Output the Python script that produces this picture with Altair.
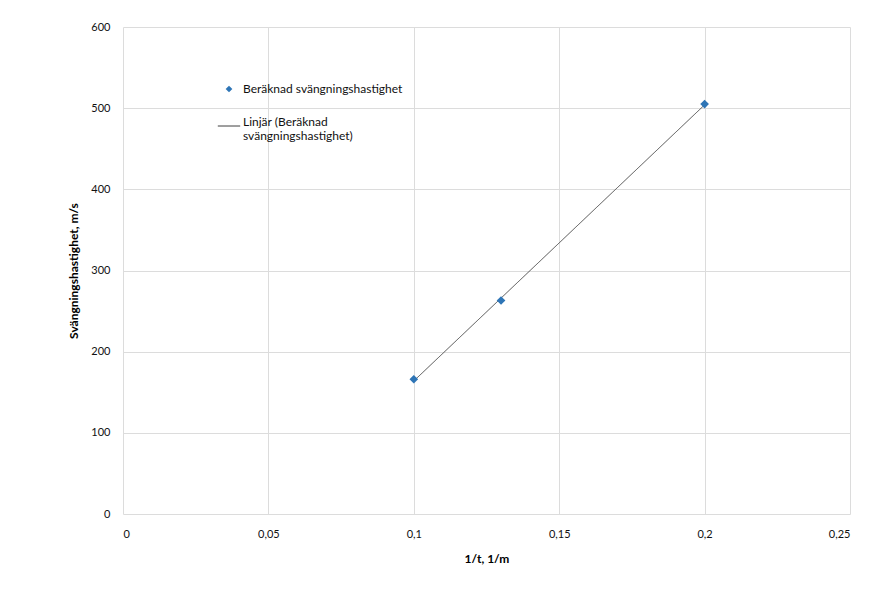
import altair as alt
import pandas as pd

# Data
inv_t = [0.1, 0.13, 0.2]
speed = [166, 263, 505]
series_points = "Beräknad svängningshastighet"
series_line = "Linjär (Beräknad svängningshastighet)"
x_ticks = [0, 0.05, 0.1, 0.15, 0.2, 0.25]
y_ticks = [0, 100, 200, 300, 400, 500, 600]

df = pd.DataFrame({"x": inv_t, "y": speed, "s": series_points, "l": series_line})

FONT = "Lato"

x_enc = alt.X(
    "x:Q",
    scale=alt.Scale(domain=[0, 0.25], nice=False, zero=True),
    axis=alt.Axis(
        values=x_ticks,
        title="1/t, 1/m",
        labelExpr="replace(toString(datum.value), '.', ',')",
        grid=True,
        gridColor="#dcdcdc",
        domain=False,
        ticks=False,
        labelPadding=14,
        titlePadding=14,
    ),
)
y_enc = alt.Y(
    "y:Q",
    scale=alt.Scale(domain=[0, 600], nice=False),
    axis=alt.Axis(
        values=y_ticks,
        title="Svängningshastighet, m/s",
        grid=True,
        gridColor="#dcdcdc",
        domain=False,
        ticks=False,
        labelPadding=13,
        titlePadding=10,
    ),
)

line = (
    alt.Chart(df)
    .transform_regression("x", "y", method="linear")
    .transform_calculate(l=f"'{series_line}'")
    .mark_line(color="#4a4a4a", strokeWidth=1, strokeDash=[6, 2])
    .encode(
        x=x_enc,
        y=y_enc,
        strokeDash=alt.StrokeDash(
            "l:N",
            scale=alt.Scale(domain=[series_line], range=[[1, 0]]),
            legend=alt.Legend(
                title=None,
                orient="none",
                legendX=94,
                legendY=87,
                symbolType="stroke",
                symbolStrokeColor="#333333",
                symbolStrokeWidth=1,
                symbolSize=500,
                labelLimit=400,
                labelFontSize=12,
                labelFont=FONT,
                labelColor="#111111",
                labelExpr="['Linjär (Beräknad', 'svängningshastighet)']",
                labelBaseline="alphabetic",
                labelOffset=2,
            ),
        ),
    )
)

points = (
    alt.Chart(df)
    .mark_point(filled=True, size=75, color="#2E75B6", opacity=1)
    .encode(
        x=x_enc,
        y=y_enc,
        shape=alt.Shape(
            "s:N",
            scale=alt.Scale(domain=[series_points], range=["diamond"]),
            legend=alt.Legend(
                title=None,
                orient="none",
                legendX=100,
                legendY=56,
                symbolFillColor="#2E75B6",
                symbolStrokeColor="#2E75B6",
                symbolSize=45,
                labelLimit=400,
                labelFontSize=12,
                labelFont=FONT,
                labelColor="#111111",
                labelOffset=8,
            ),
        ),
    )
)

chart = (
    alt.layer(line, points)
    .resolve_legend(shape="independent", strokeDash="independent")
    .properties(
        width=727,
        height=487,
        background="white",
        padding={"left": 123, "top": 27, "right": 46, "bottom": 85},
        autosize=alt.AutoSizeParams(type="none"),
    )
    .configure_view(stroke=None)
    .configure_axis(
        labelFont=FONT,
        titleFont=FONT,
        labelFontSize=11,
        titleFontSize=12,
        labelColor="#111111",
        titleColor="#000000",
        titleFontWeight="bold",
    )
)

chart.save("out.html", embed_options={"renderer": "svg", "actions": False})
